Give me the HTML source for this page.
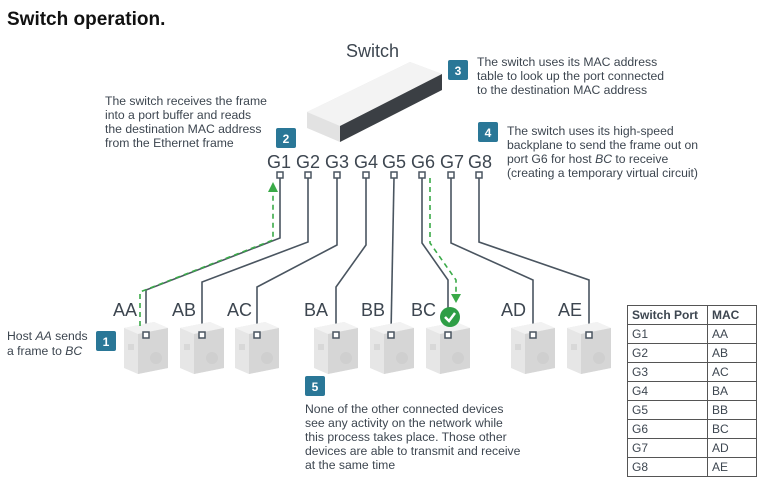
<!DOCTYPE html>
<html><head><meta charset="utf-8"><style>
body{margin:0;background:#fff;width:764px;height:481px;overflow:hidden}
svg{display:block}
</style></head><body>
<svg width="764" height="481" xmlns="http://www.w3.org/2000/svg" font-family="Liberation Sans, sans-serif">
<defs>
<g id="host">
 <polygon points="0,6 30,0 44,6 44,46 14,52 0,46" fill="#e6e6e6"/>
 <polygon points="0,6 30,0 44,6 14,12" fill="#f2f2f2"/>
 <polygon points="14,12 44,6 44,46 14,52" fill="#d6d6d6"/>
 <circle cx="32" cy="36" r="6" fill="#cfcfcf"/>
 <rect x="4" y="22" width="6" height="6" fill="#d8d8d8"/>
</g>
</defs>
<text x="7" y="25" font-size="19" font-weight="bold" fill="#111">Switch operation.</text>

<!-- switch -->
<text x="346" y="57" font-size="18" fill="#3d4650">Switch</text>
<polygon points="307,112 410,62 442,74 442,90 340,142 307,128" fill="#e2e2e2"/>
<polygon points="307,112 410,62 442,74 340,126" fill="#f3f3f3"/>
<polygon points="340,126 442,74 442,90 340,142" fill="#3b3f44"/>

<!-- port labels -->
<g font-size="18" fill="#3d4650">
<text x="267" y="168">G1</text><text x="296" y="168">G2</text><text x="325" y="168">G3</text><text x="354" y="168">G4</text><text x="382" y="168">G5</text><text x="411" y="168">G6</text><text x="440" y="168">G7</text><text x="468" y="168">G8</text>
</g>

<!-- connectors -->
<g fill="none" stroke="#4a5560" stroke-width="1.6">
<polyline points="280,178 280,238 146,290 146,333"/>
<polyline points="308,178 308,242 202,282 202,333"/>
<polyline points="337,178 337,245 257,287 257,333"/>
<polyline points="366,178 366,245 336,287 336,333"/>
<polyline points="394,178 391,333"/>
<polyline points="422,178 422,243 448,280 448,333"/>
<polyline points="451,178 451,243 533,280 533,333"/>
<polyline points="479,178 479,242 589,280 589,333"/>
</g>
<g fill="#fff" stroke="#4a5560" stroke-width="1.5">
<rect x="277" y="172" width="6" height="6"/><rect x="305" y="172" width="6" height="6"/><rect x="334" y="172" width="6" height="6"/><rect x="363" y="172" width="6" height="6"/><rect x="391" y="172" width="6" height="6"/><rect x="419" y="172" width="6" height="6"/><rect x="448" y="172" width="6" height="6"/><rect x="476" y="172" width="6" height="6"/>
</g>

<!-- hosts -->
<use href="#host" x="124" y="322"/><use href="#host" x="180" y="322"/><use href="#host" x="235" y="322"/>
<use href="#host" x="314" y="322"/><use href="#host" x="370" y="322"/><use href="#host" x="426" y="322"/>
<use href="#host" x="511" y="322"/><use href="#host" x="567" y="322"/>
<g fill="#fff" stroke="#4a5560" stroke-width="1.5">
<rect x="143" y="332" width="6" height="6"/><rect x="199" y="332" width="6" height="6"/><rect x="254" y="332" width="6" height="6"/><rect x="333" y="332" width="6" height="6"/><rect x="388" y="332" width="6" height="6"/><rect x="445" y="332" width="6" height="6"/><rect x="530" y="332" width="6" height="6"/><rect x="586" y="332" width="6" height="6"/>
</g>
<g font-size="18" fill="#3d4650">
<text x="113" y="316">AA</text><text x="172" y="316">AB</text><text x="227" y="316">AC</text><text x="304" y="316">BA</text><text x="361" y="316">BB</text><text x="411" y="316">BC</text><text x="501" y="316">AD</text><text x="558" y="316">AE</text>
</g>

<!-- green paths -->
<g fill="none" stroke="#3aaa48" stroke-width="1.6" stroke-dasharray="5,4">
<polyline points="140,326 140,292 273,240 273,190"/>
<polyline points="430,178 430,243 456,280 456,296"/>
</g>
<polygon points="268,192 278,192 273,182" fill="#3aaa48"/>
<polygon points="451,294 461,294 456,303" fill="#3aaa48"/>
<circle cx="450" cy="317" r="10" fill="#2e9e45"/>
<polyline points="445,317 449,321 455,313" fill="none" stroke="#fff" stroke-width="2.5"/>

<!-- badges -->
<g fill="#2a7797">
<rect x="96" y="331" width="20" height="20" rx="2"/><rect x="276" y="128" width="20" height="20" rx="2"/><rect x="448" y="60" width="20" height="20" rx="2"/><rect x="478" y="122" width="20" height="20" rx="2"/><rect x="305" y="376" width="20" height="20" rx="2"/>
</g>
<g fill="#fff" font-size="12" font-weight="bold" text-anchor="middle">
<text x="106" y="346">1</text><text x="286" y="143">2</text><text x="458" y="75">3</text><text x="488" y="137">4</text><text x="315" y="391">5</text>
</g>

<!-- texts -->
<g font-size="12.2" fill="#3d4650">
<text x="7" y="340">Host <tspan font-style="italic">AA</tspan> sends</text>
<text x="7" y="355">a frame to <tspan font-style="italic">BC</tspan></text>
<text x="105" y="105">The switch receives the frame</text>
<text x="105" y="119">into a port buffer and reads</text>
<text x="105" y="133">the destination MAC address</text>
<text x="105" y="147">from the Ethernet frame</text>
<text x="477" y="66">The switch uses its MAC address</text>
<text x="477" y="80">table to look up the port connected</text>
<text x="477" y="94">to the destination MAC address</text>
<text x="507" y="135">The switch uses its high-speed</text>
<text x="507" y="149">backplane to send the frame out on</text>
<text x="507" y="163">port G6 for host <tspan font-style="italic">BC</tspan> to receive</text>
<text x="507" y="177">(creating a temporary virtual circuit)</text>
<text x="305" y="413">None of the other connected devices</text>
<text x="305" y="427">see any activity on the network while</text>
<text x="305" y="441">this process takes place. Those other</text>
<text x="305" y="455">devices are able to transmit and receive</text>
<text x="305" y="469">at the same time</text>
</g>

<!-- table -->
<g stroke="#555" stroke-width="1" fill="none">
<rect x="627.5" y="305.5" width="129" height="171"/>
<line x1="707.5" y1="305" x2="707.5" y2="477"/>
<line x1="627" y1="324.5" x2="757" y2="324.5"/><line x1="627" y1="343.5" x2="757" y2="343.5"/><line x1="627" y1="362.5" x2="757" y2="362.5"/><line x1="627" y1="381.5" x2="757" y2="381.5"/><line x1="627" y1="400.5" x2="757" y2="400.5"/><line x1="627" y1="419.5" x2="757" y2="419.5"/><line x1="627" y1="438.5" x2="757" y2="438.5"/><line x1="627" y1="457.5" x2="757" y2="457.5"/>
</g>
<g font-size="12" fill="#3d4650">
<text x="632" y="319" font-weight="bold">Switch Port</text><text x="712" y="319" font-weight="bold">MAC</text>
<text x="632" y="338">G1</text><text x="712" y="338">AA</text>
<text x="632" y="357">G2</text><text x="712" y="357">AB</text>
<text x="632" y="376">G3</text><text x="712" y="376">AC</text>
<text x="632" y="395">G4</text><text x="712" y="395">BA</text>
<text x="632" y="414">G5</text><text x="712" y="414">BB</text>
<text x="632" y="433">G6</text><text x="712" y="433">BC</text>
<text x="632" y="452">G7</text><text x="712" y="452">AD</text>
<text x="632" y="471">G8</text><text x="712" y="471">AE</text>
</g>
</svg>
</body></html>
